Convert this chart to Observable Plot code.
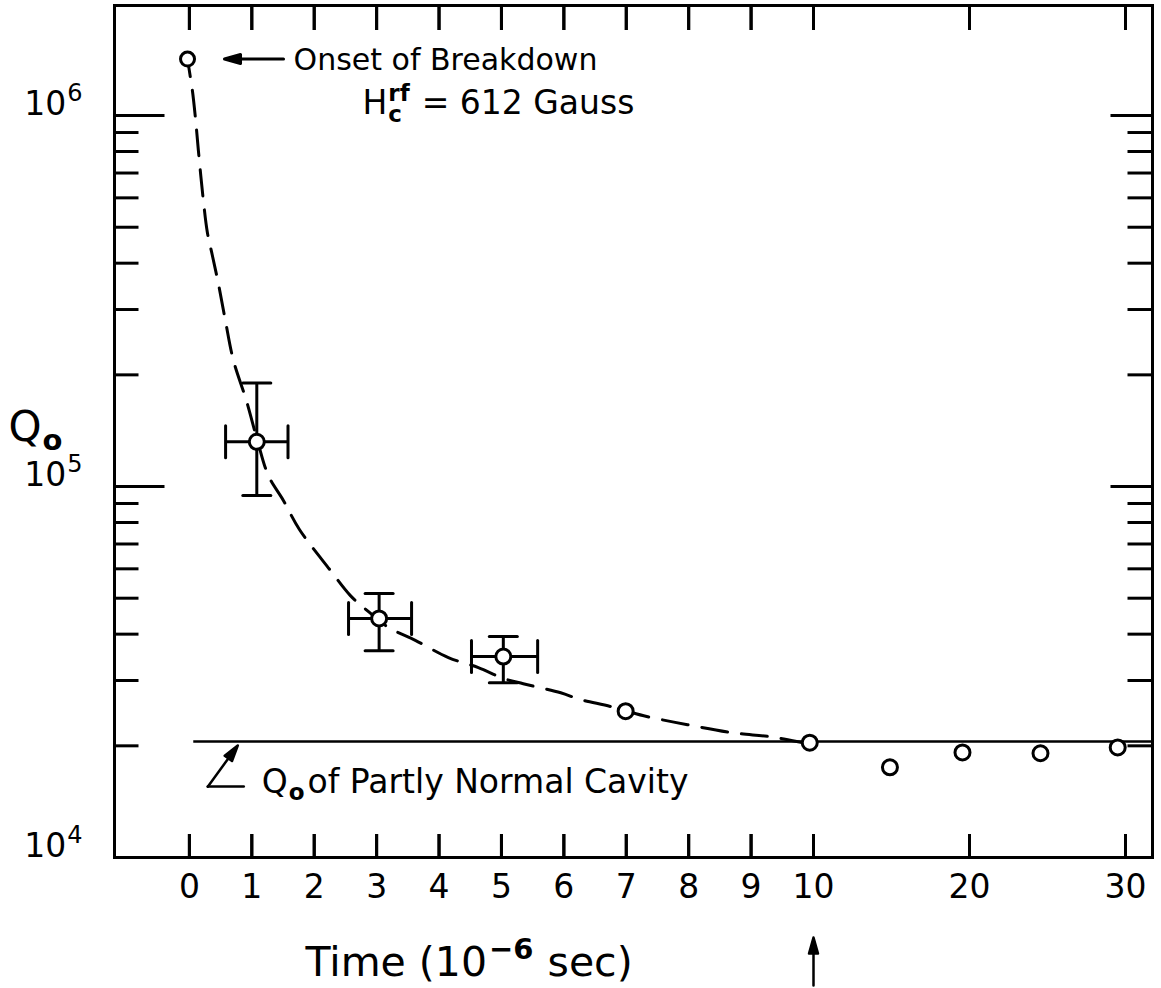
<!DOCTYPE html>
<html>
<head>
<meta charset="utf-8">
<script src="https://cdn.jsdelivr.net/npm/d3@7"></script>
<script src="https://cdn.jsdelivr.net/npm/@observablehq/plot@0.6"></script>
<style>
html, body { margin: 0; padding: 0; background: #fff; overflow: hidden; }
#chart { position: relative; width: 1161px; height: 988px; }
#chart svg { display: block; }
</style>
</head>
<body>
<div id="chart"></div>
<script>
// ---------------- data ----------------
const xTickValues = [0, 1, 2, 3, 4, 5, 6, 7, 8, 9, 10, 20, 30];
const yLabelValues = [1e4, 1e5, 1e6];
const yMajorTicks = [1e5, 1e6];
const yMinorTicks = [2e4, 3e4, 4e4, 5e4, 6e4, 7e4, 8e4, 9e4, 2e5, 3e5, 4e5, 5e5, 6e5, 7e5, 8e5, 9e5];

// onset of breakdown
const onsetT = [-0.03];
const onsetQ = [1.42e6];

// points with error bars
const errT   = [1.08, 3.04, 5.03];
const errQ   = [1.32e5, 4.41e4, 3.48e4];
const errQlo = [9.46e4, 3.61e4, 2.96e4];
const errQhi = [1.90e5, 5.15e4, 3.94e4];
const errTlo = [0.58, 2.55, 4.52];
const errThi = [1.58, 3.56, 5.58];

// plain points
const ptT = [6.99, 9.94, 14.9, 19.55, 24.55, 29.5];
const ptQ = [2.48e4, 2.04e4, 1.75e4, 1.92e4, 1.91e4, 1.98e4];

// dashed trend curve
const curveT = [-0.03, 0.016, 0.048, 0.096, 0.144, 0.224, 0.288, 0.369, 0.465, 0.577, 0.705, 0.913, 1.09,
  1.266, 1.506, 1.763, 2.26, 2.58, 2.85, 3.19, 3.62, 4.15, 4.63, 5.03, 5.35, 5.95, 6.25, 6.76, 7.28,
  7.98, 8.70, 9.36, 9.94];
const curveQ = [1.424e6, 1.266e6, 1.168e6, 9.88e5, 8.05e5, 5.90e5, 4.84e5, 4.19e5, 3.52e5, 2.80e5, 2.19e5,
  1.705e5, 1.33e5, 1.07e5, 9.17e4, 7.66e4, 5.94e4, 5.08e4, 4.63e4, 4.17e4, 3.85e4, 3.46e4, 3.25e4,
  3.04e4, 2.94e4, 2.78e4, 2.67e4, 2.55e4, 2.41e4, 2.28e4, 2.17e4, 2.11e4, 2.02e4];

// Q0 of partly normal cavity
const normalQ = [2.055e4];
const normalFromT = [0.07];

// scale configuration
const xDomain = [-1.2, 10, 31.73];
const xRange = [114, 813, 1152];
const yDomain = [1e4, 1.98e6];

// ---------------- tables ----------------
const onset = onsetT.map((t, i) => ({t, q: onsetQ[i]}));
const errData = errT.map((t, i) => ({t, q: errQ[i], lo: errQlo[i], hi: errQhi[i], tlo: errTlo[i], thi: errThi[i]}));
const points = ptT.map((t, i) => ({t, q: ptQ[i]}));
const curve = curveT.map((t, i) => ({t, q: curveQ[i]}));
const normal = normalQ.map((q, i) => ({t: normalFromT[i], q}));
const xTickRows = xTickValues.map(t => ({t, lo: yDomain[0], hi: yDomain[1]}));

// text measuring (same font as the SVG) for sub/superscript placement
const FONT = "'DejaVu Sans'";
const mctx = document.createElement("canvas").getContext("2d");
const M = (s, size, weight = "normal") => { mctx.font = `${weight} ${size}px ${FONT}`; return mctx.measureText(s).width; };

const lineShape = {draw(ctx, l) { ctx.moveTo(0, 0); ctx.lineTo(0, -l); }};
const arrowShape = {draw(ctx, l) {
  const h = 16, w = 4.5;
  ctx.moveTo(0, 0); ctx.lineTo(0, -l + h * 0.7);
  ctx.moveTo(0, -l); ctx.lineTo(-w, -l + h); ctx.lineTo(w, -l + h); ctx.closePath();
}};

// annotation layout offsets
const hx = 175, hy = 55, wH = M("H", 33), wCR = Math.max(M("c", 23, "bold"), M("rf", 23, "bold"));
const nx = 68, ny = 52, wQn = M("Q", 33), wOn = M("o", 23, "bold");
const wQt = M("Q", 42);
const wSup = M("6", 24);
const tx = 191, ty = 118, wT1 = M("Time (10", 41), wT2 = M("\u22126", 29, "bold");

const SW = 3;
const common = {
  width: 1161,
  height: 988,
  marginLeft: 114, marginRight: 9, marginTop: 5, marginBottom: 131,
  x: {type: "linear", domain: xDomain, range: xRange, axis: null},
  y: {type: "log", domain: yDomain, axis: null}
};
const xTickMarks = () => [
  Plot.ruleX(xTickRows, {x: "t", y1: "lo", y2: "lo", insetTop: -23, stroke: "black", strokeWidth: SW}),
  Plot.ruleX(xTickRows, {x: "t", y1: "hi", y2: "hi", insetBottom: -25, stroke: "black", strokeWidth: SW})
];

const chart = Plot.plot({
  ...common,
  style: {fontFamily: `${FONT}, sans-serif`, background: "white", color: "black"},
  marks: [
    Plot.frame({strokeWidth: SW}),
    // y ticks left
    Plot.vector(yMajorTicks, {y: d => d, frameAnchor: "left", rotate: 90, length: 50, anchor: "start", shape: lineShape, stroke: "black", strokeWidth: SW, strokeLinecap: "butt"}),
    Plot.vector(yMinorTicks, {y: d => d, frameAnchor: "left", rotate: 90, length: 24, anchor: "start", shape: lineShape, stroke: "black", strokeWidth: SW, strokeLinecap: "butt"}),
    // y ticks right
    Plot.vector(yMajorTicks, {y: d => d, frameAnchor: "right", rotate: -90, length: 42, anchor: "start", shape: lineShape, stroke: "black", strokeWidth: SW, strokeLinecap: "butt"}),
    Plot.vector(yMinorTicks, {y: d => d, frameAnchor: "right", rotate: -90, length: 25, anchor: "start", shape: lineShape, stroke: "black", strokeWidth: SW, strokeLinecap: "butt"}),
    // x ticks (inward, bottom and top)
    ...xTickMarks(),
    // Q0 of partly normal cavity
    Plot.ruleY(normal, {y: "q", x1: "t", x2: xDomain[xDomain.length - 1], strokeWidth: 2.5}),
    // dashed curve
    Plot.line(curve, {x: "t", y: "q", curve: "catmull-rom", strokeWidth: SW, strokeDasharray: "26,14", strokeDashoffset: 8}),
    // error bars
    Plot.ruleX(errData, {x: "t", y1: "lo", y2: "hi", strokeWidth: SW}),
    Plot.ruleY(errData, {y: "q", x1: "tlo", x2: "thi", strokeWidth: SW}),
    Plot.vector(errData, {x: "t", y: "hi", rotate: 90, length: 28, anchor: "middle", shape: lineShape, stroke: "black", strokeWidth: SW}),
    Plot.vector(errData, {x: "t", y: "lo", rotate: 90, length: 28, anchor: "middle", shape: lineShape, stroke: "black", strokeWidth: SW}),
    Plot.vector(errData, {x: "tlo", y: "q", rotate: 0, length: 32, anchor: "middle", shape: lineShape, stroke: "black", strokeWidth: SW}),
    Plot.vector(errData, {x: "thi", y: "q", rotate: 0, length: 32, anchor: "middle", shape: lineShape, stroke: "black", strokeWidth: SW}),
    // circles
    Plot.dot(errData, {x: "t", y: "q", r: 7.5, fill: "white", stroke: "black", strokeWidth: SW}),
    Plot.dot(points, {x: "t", y: "q", r: 7.5, fill: "white", stroke: "black", strokeWidth: SW}),
    Plot.dot(onset, {x: "t", y: "q", r: 7, fill: "white", stroke: "black", strokeWidth: SW}),
    // onset annotation
    Plot.vector(onset, {x: "t", y: "q", dx: 37, rotate: -90, length: 59, anchor: "end", shape: arrowShape, fill: "black", stroke: "black", strokeWidth: 3}),
    Plot.text(onset, {x: "t", y: "q", text: () => "Onset of Breakdown", dx: 106, dy: 11, textAnchor: "start", lineAnchor: "bottom", fontSize: 30}),
    Plot.text(onset, {x: "t", y: "q", text: () => "H", dx: hx, dy: hy, textAnchor: "start", lineAnchor: "bottom", fontSize: 33}),
    Plot.text(onset, {x: "t", y: "q", text: () => "c", dx: hx + wH + 1, dy: hy + 8, textAnchor: "start", lineAnchor: "bottom", fontSize: 23, fontWeight: "bold"}),
    Plot.text(onset, {x: "t", y: "q", text: () => "rf", dx: hx + wH + 1, dy: hy - 13, textAnchor: "start", lineAnchor: "bottom", fontSize: 23, fontWeight: "bold"}),
    Plot.text(onset, {x: "t", y: "q", text: () => "= 612 Gauss", dx: hx + wH + 1 + wCR + 12, dy: hy, textAnchor: "start", lineAnchor: "bottom", fontSize: 33}),
    // partly normal cavity annotation
    Plot.vector(normal, {x: "t", y: "q", dx: 44, dy: 4, rotate: 36, length: 51, anchor: "end", shape: arrowShape, fill: "black", stroke: "black", strokeWidth: 2.5}),
    Plot.vector(normal, {x: "t", y: "q", dx: 14, dy: 45, rotate: 90, length: 36, anchor: "start", shape: lineShape, stroke: "black", strokeWidth: 2.5}),
    Plot.text(normal, {x: "t", y: "q", text: () => "Q", dx: nx, dy: ny, textAnchor: "start", lineAnchor: "bottom", fontSize: 33}),
    Plot.text(normal, {x: "t", y: "q", text: () => "o", dx: nx + wQn + 1, dy: ny + 7, textAnchor: "start", lineAnchor: "bottom", fontSize: 23, fontWeight: "bold"}),
    Plot.text(normal, {x: "t", y: "q", text: () => "of Partly Normal Cavity", dx: nx + wQn + wOn + 4, dy: ny, textAnchor: "start", lineAnchor: "bottom", fontSize: 33}),
    // x tick labels
    Plot.text(xTickValues, {x: d => d, frameAnchor: "bottom", dy: 40, lineAnchor: "bottom", text: d => String(d), fontSize: 33}),
    // y tick labels 10^n
    Plot.text(yLabelValues, {y: d => d, frameAnchor: "left", dx: -32 - wSup - 1, dy: -1, lineAnchor: "bottom", textAnchor: "end", text: () => "10", fontSize: 33}),
    Plot.text(yLabelValues, {y: d => d, frameAnchor: "left", dx: -32, dy: -15, lineAnchor: "bottom", textAnchor: "end", text: d => String(Math.round(Math.log10(d))), fontSize: 24}),
    // y title Q0
    Plot.text(["Q"], {frameAnchor: "top-left", dx: -106, dy: 435, lineAnchor: "bottom", textAnchor: "start", fontSize: 42}),
    Plot.text(["o"], {frameAnchor: "top-left", dx: -106 + wQt + 1, dy: 444, lineAnchor: "bottom", textAnchor: "start", fontSize: 29, fontWeight: "bold"}),
    // x title Time (10^-6 sec)
    Plot.text(["Time (10"], {frameAnchor: "bottom-left", dx: tx, dy: ty, lineAnchor: "bottom", textAnchor: "start", fontSize: 41}),
    Plot.text(["\u22126"], {frameAnchor: "bottom-left", dx: tx + wT1 + 2, dy: ty - 17, lineAnchor: "bottom", textAnchor: "start", fontSize: 29, fontWeight: "bold"}),
    Plot.text(["sec)"], {frameAnchor: "bottom-left", dx: tx + wT1 + wT2 + 16, dy: ty, lineAnchor: "bottom", textAnchor: "start", fontSize: 41}),
    // arrow under 10
    Plot.vector([10], {x: d => d, frameAnchor: "bottom", dy: 80, rotate: 0, length: 48, anchor: "end", shape: arrowShape, fill: "black", stroke: "black", strokeWidth: 2.5})
  ]
});

// the inward x-axis ticks, also drawn in a transparent overlay with the same scales
const tickLayer = Plot.plot({
  ...common,
  style: {background: "transparent", color: "black"},
  marks: xTickMarks()
});
tickLayer.style.position = "absolute";
tickLayer.style.left = "0px";
tickLayer.style.top = "0px";
tickLayer.style.pointerEvents = "none";

const host = document.getElementById("chart");
host.appendChild(chart);
host.appendChild(tickLayer);
</script>
</body>
</html>
